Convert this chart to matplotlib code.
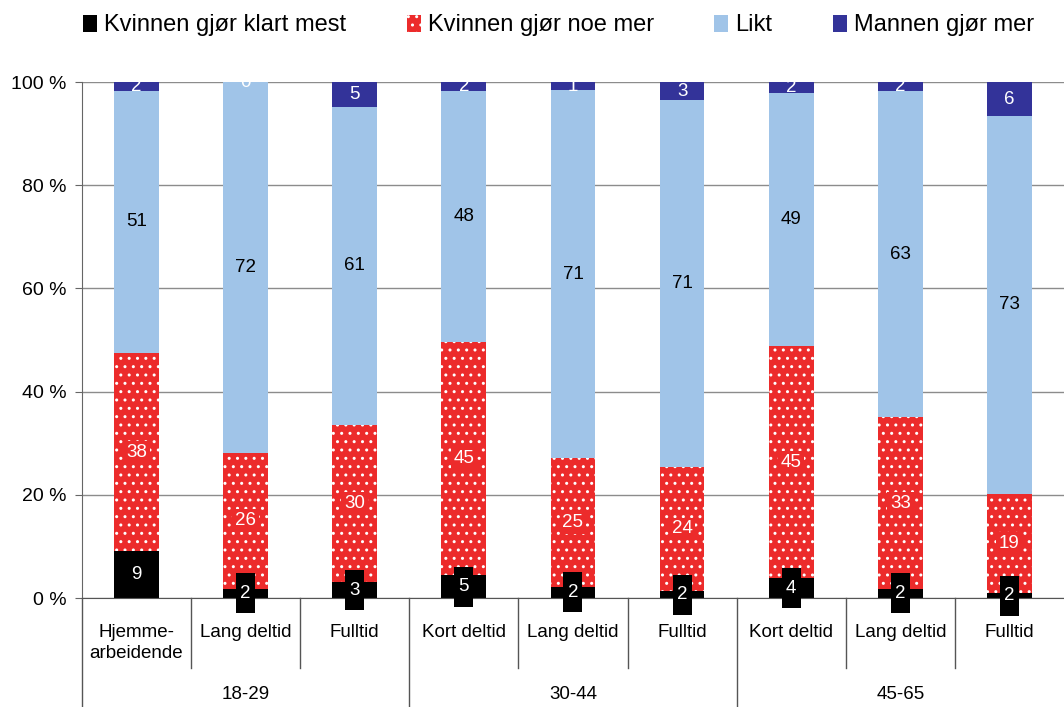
import matplotlib.pyplot as plt
import numpy as np
from matplotlib.patches import Patch, Rectangle
from matplotlib.transforms import ScaledTranslation

plt.rcParams['font.family'] = ['Liberation Sans', 'DejaVu Sans']

# data
categories = ['Hjemme-\narbeidende', 'Lang deltid', 'Fulltid',
              'Kort deltid', 'Lang deltid', 'Fulltid',
              'Kort deltid', 'Lang deltid', 'Fulltid']
groups = ['18-29', '30-44', '45-65']
series_names = ['Kvinnen gjør klart mest', 'Kvinnen gjør noe mer', 'Likt', 'Mannen gjør mer']

# segment heights (percent)
klart_mest = [9.1, 1.8, 3.1, 4.5, 2.2, 1.4, 3.9, 1.8, 1.0]
noe_mer = [38.4, 26.4, 30.5, 45.1, 24.9, 24.0, 44.9, 33.2, 19.2]
likt = [50.8, 71.8, 61.6, 48.7, 71.3, 71.1, 49.1, 63.3, 73.2]
mannen = [1.7, 0.0, 4.8, 1.7, 1.6, 3.5, 2.1, 1.7, 6.6]

# printed value labels
lbl_klart_mest = [9, 2, 3, 5, 2, 2, 4, 2, 2]
lbl_noe_mer = [38, 26, 30, 45, 25, 24, 45, 33, 19]
lbl_likt = [51, 72, 61, 48, 71, 71, 49, 63, 73]
lbl_mannen = [2, 0, 5, 2, 1, 3, 2, 2, 6]

colors = ['#000000', '#EC2B2B', '#A0C4E8', '#333399']
label_colors = ['white', 'white', 'black', 'white']

heights = [klart_mest, noe_mer, likt, mannen]
labels = [lbl_klart_mest, lbl_noe_mer, lbl_likt, lbl_mannen]

fig = plt.figure(figsize=(10.64, 7.07), dpi=100)
ax = fig.add_axes([0.077, 0.154, 0.923, 0.730])

x = np.arange(len(categories))
width = 0.41
bottom = np.zeros(len(categories))
for i in range(4):
    h = np.array(heights[i])
    if i == 1:
        ax.bar(x, h, width, bottom=bottom, color=colors[i], edgecolor='white',
               linewidth=0, hatch='..', zorder=2)
    else:
        ax.bar(x, h, width, bottom=bottom, color=colors[i], linewidth=0, zorder=2)
    centers = bottom + h / 2
    for xi, c, v in zip(x, centers, labels[i]):
        lbl = '%d' % v
        if i == 0:
            # black label box, taller than the text, sticks out of thin segments
            trans = fig.dpi_scale_trans + ScaledTranslation(xi, c, ax.transData)
            ax.add_patch(Rectangle((-0.095, -0.2), 0.19, 0.4, transform=trans,
                                   facecolor='black', edgecolor='none', zorder=5, clip_on=False))
            ax.text(xi, c, lbl, ha='center', va='center', color='white', fontsize=13.5, zorder=6)
        elif i == 1:
            ax.text(xi, c, lbl, ha='center', va='center', color='white', fontsize=13.5, zorder=6,
                    bbox=dict(boxstyle='square,pad=0.15', facecolor=colors[1], edgecolor='none'))
        else:
            ax.text(xi, c, lbl, ha='center', va='center', color=label_colors[i],
                    fontsize=13.5, zorder=6, clip_on=True)
    bottom += h

ax.set_xlim(-0.5, len(categories) - 0.5)
ax.set_ylim(0, 100)
ax.set_yticks(range(0, 101, 20))
ax.set_yticklabels(['%d %%' % v for v in range(0, 101, 20)], fontsize=14)
ax.yaxis.grid(True, color='#8c8c8c', linewidth=1)
ax.set_axisbelow(True)
ax.tick_params(axis='y', length=5, color='#666666', pad=6)
ax.set_xticks([])
for s in ['top', 'right']:
    ax.spines[s].set_visible(False)
ax.spines['left'].set_color('#666666')
ax.spines['bottom'].set_color('#555555')
ax.spines['bottom'].set_zorder(3)

# two-level category axis
xt = ax.get_xaxis_transform()
for xi, name in zip(x, categories):
    ax.text(xi, -0.05, name, transform=xt, ha='center', va='top', fontsize=13.5,
            linespacing=1.35)
for b in range(1, len(categories)):
    yb = -0.211 if b % 3 == 0 else -0.136
    ax.plot([b - 0.5, b - 0.5], [0, yb], transform=xt, color='#555555', lw=1, clip_on=False)
ax.plot([-0.5, -0.5], [0, -0.211], transform=xt, color='#555555', lw=1, clip_on=False)
for g, name in enumerate(groups):
    ax.text(g * 3 + 1, -0.186, name, transform=xt, ha='center', va='center', fontsize=13.5)

handles = [Patch(facecolor=colors[0]),
           Patch(facecolor=colors[1], edgecolor='white', hatch='..', linewidth=0),
           Patch(facecolor=colors[2]),
           Patch(facecolor=colors[3])]
fig.legend(handles, series_names, loc='center', bbox_to_anchor=(0.525, 0.964), ncol=4,
           frameon=False, fontsize=17, handlelength=0.6, handleheight=0.75,
           handletextpad=0.3, columnspacing=2.55)

fig.savefig('out.png', dpi=100)
